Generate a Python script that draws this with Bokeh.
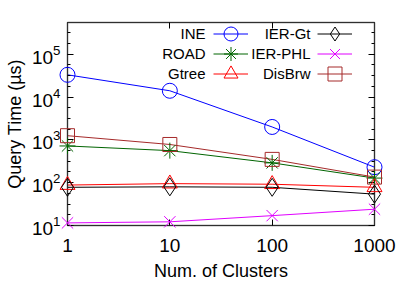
import math
from bokeh.plotting import figure
from bokeh.models import (FixedTicker, LogAxis, Legend, LegendItem, Label,
                          CustomJSTickFormatter, PrintfTickFormatter, Range1d)
from bokeh.core.properties import value
from bokeh.embed import file_html
from bokeh.resources import INLINE

# ---- data ----
clusters = [1, 10, 100, 1000]
ine = [33000, 14000, 2000, 230]
road = [720, 560, 290, 128]
gtree = [88, 95, 92, 78]
ier_gt = [78, 80, 78, 54]
ier_phl = [11.5, 12.2, 17, 24]
disbrw = [1250, 780, 350, 135]

y_major = [10, 100, 1000, 10000, 100000]
FONT = "Liberation Sans"

W, H = 405, 283
p = figure(width=W, height=H, x_axis_type="log", y_axis_type="log",
           x_range=Range1d(1, 1000), y_range=Range1d(10, 5.5e5),
           output_backend="svg", toolbar_location=None,
           min_border_left=67, min_border_right=W - 374, min_border_top=22,
           min_border_bottom=H - 227)
p.grid.visible = False
p.outline_line_color = "#707070"
p.outline_line_width = 1.5
p.background_fill_color = "white"
p.border_fill_color = "white"

xticker = FixedTicker(ticks=clusters, minor_ticks=[])
yticker = FixedTicker(ticks=y_major,
                      minor_ticks=[10 ** (k / 4) for k in range(4, 24)])

def style_axis(ax):
    ax.axis_line_color = "#303030"
    ax.axis_line_width = 1
    ax.major_tick_in = 6
    ax.major_tick_out = 0
    ax.minor_tick_in = 3
    ax.minor_tick_out = 0
    ax.major_tick_line_color = "black"
    ax.minor_tick_line_color = "black"
    ax.major_label_text_font = FONT
    ax.major_label_text_font_size = "19px"
    ax.major_label_text_color = "black"
    ax.axis_label_text_font = FONT
    ax.axis_label_text_font_style = "normal"
    ax.axis_label_text_font_size = "18px"
    ax.axis_label_text_color = "black"

xa = p.xaxis[0]
xa.ticker = xticker
xa.formatter = PrintfTickFormatter(format="%d")
xa.axis_label = "Num. of Clusters"
style_axis(xa)
xa.major_label_standoff = 13
xa.axis_label_standoff = 6

ya = p.yaxis[0]
ya.ticker = yticker
ya.axis_label = "Query Time (µs)"
style_axis(ya)
ya.major_label_standoff = 7
ya.axis_label_standoff = 4

blank = CustomJSTickFormatter(code="return ''")
top = LogAxis(ticker=xticker, formatter=blank)
style_axis(top)
top.major_label_standoff = 0
p.add_layout(top, "above")
right = LogAxis(ticker=yticker, formatter=blank)
style_axis(right)
right.major_label_standoff = 0
p.add_layout(right, "right")

series = [
    ("INE", ine, "#0000ff", "circle", 15),
    ("ROAD", road, "#006400", "asterisk", 16),
    ("Gtree", gtree, "#ff0000", "triangle", 15),
    ("IER-Gt", ier_gt, "#000000", "diamond", 18),
    ("IER-PHL", ier_phl, "#e000ff", "x", 16),
    ("DisBrw", disbrw, "#a52a2a", "square", 14),
]

rends = {}
for name, ys, col, mk, sz in series:
    ln = p.line(clusters, ys, line_color=col, line_width=1)
    sc = p.scatter(clusters, ys, marker=mk, size=sz,
                   fill_color=None, line_color=col, line_width=1, level="overlay")
    rends[name] = [ln, sc]

# legend: label (right aligned) followed by a line+marker sample
cols = [(["INE", "ROAD", "Gtree"], 146, 138),
        (["IER-Gt", "IER-PHL", "DisBrw"], 250, 243)]
row_y = [192, 172, 152]
for names, gx, tx in cols:
    for n, yy in zip(names, row_y):
        lg = Legend(items=[LegendItem(label=value(" "), renderers=rends[n])],
                    location=(gx, yy - 17.5), orientation="vertical",
                    glyph_width=35, glyph_height=35, spacing=0, padding=0, margin=0,
                    label_standoff=0, label_width=0, label_height=0,
                    label_text_font_size="1px", border_line_color=None,
                    background_fill_alpha=0)
        p.add_layout(lg)
        p.add_layout(Label(x=tx, y=yy, x_units="screen", y_units="screen", text=n,
                           text_align="right", text_baseline="middle",
                           text_font=FONT, text_font_size="15px", text_color="black"))

open("out.html", "w").write(file_html(p, INLINE))
